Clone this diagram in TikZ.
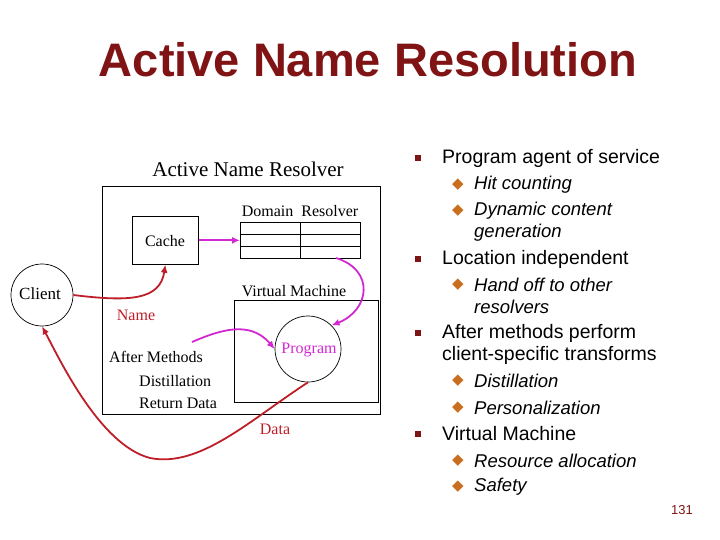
\documentclass[tikz,border=0pt]{standalone}
\usepackage{fontspec}
\setmainfont{Liberation Serif}
\newfontfamily\arial{Liberation Sans}
\newfontfamily\dejavu{DejaVu Sans}
\usetikzlibrary{arrows.meta}
\definecolor{dred}{RGB}{128,20,20}
\definecolor{nred}{RGB}{190,30,40}
\definecolor{mag}{RGB}{210,40,210}
\definecolor{orng}{RGB}{200,110,30}
\begin{document}
\begin{tikzpicture}[x=1pt,y=-1pt,
  box/.style={draw,line width=0.7pt},
  rarr/.style={draw=nred,line width=1.8pt,-{Latex[length=8pt,width=7pt]}},
  marr/.style={draw=mag,line width=1.8pt,-{Latex[length=8pt,width=7pt]}},
  tm/.style={font=\fontsize{16}{18}\selectfont,inner sep=0pt},
  bul/.style={font=\arial\fontsize{19.5}{21}\selectfont,anchor=west,inner sep=0pt},
  sub/.style={font=\arial\itshape\fontsize{18.5}{20}\selectfont,anchor=west,inner sep=0pt}]
\useasboundingbox (0,0) rectangle (720,540);
\node[font=\arial\bfseries\fontsize{47}{50}\selectfont,text=dred] (title) at (368,60) {Active Name Resolution};
\node[tm,font=\fontsize{21}{24}\selectfont] (anr) at (248,169) {Active Name Resolver};
\node[box,minimum width=278,minimum height=228,anchor=north west] (big) at (102,186) {};
\node[box,minimum width=66,minimum height=48,anchor=north west,tm] (cache) at (132,216) {};
\node[tm] at (165,241) {Cache};
\node[tm] (dr) at (300,211) {Domain\ \ Resolver};
\node[box,minimum width=120,minimum height=36,anchor=north west] (tab) at (240,222) {};
\draw[line width=0.7pt] (300,222) -- (300,258) (240,234) -- (360,234) (240,246) -- (360,246);
\node[box,circle,minimum size=62] (client) at (42,295) {};
\node[tm,font=\fontsize{17}{19}\selectfont] at (40,294) {Client};
\node[box,minimum width=144,minimum height=102,anchor=north west] (vm) at (234,300) {};
\node[tm] (vml) at (294,291) {Virtual Machine};
\node[box,circle,minimum size=66] (prog) at (308,349) {};
\node[tm,text=mag] at (309,350) {Program};
\node[tm,text=nred] (name) at (136,315) {Name};
\node[tm,anchor=west] (am) at (109,357) {After Methods};
\node[tm,anchor=west] (dist) at (139,381) {Distillation};
\node[tm,anchor=west] (rd) at (139,403) {Return Data};
\node[tm,text=nred] (data) at (275,429) {Data};
\coordinate (amstart) at (192,342);
\draw[rarr] (client.east) .. controls (130,302) and (160,300) .. (cache.south);
\draw[marr] (cache.east) -- (tab.west);
\draw[marr] (336,258) .. controls (375,270) and (370,310) .. (prog.north east);
\draw[marr] (amstart) .. controls (220,330) and (250,320) .. (prog.west);
\draw[rarr] (prog.south) .. controls (250,420) and (200,468) .. (150,458) .. controls (100,445) and (60,360) .. (client.south);
% bullets
\foreach \y in {158,259,333,434} \fill[dred] (415,\y-3) rectangle (421,\y+3);
\foreach \y in {185,211,285,381,408,461,487} \node[font=\dejavu\fontsize{15}{15}\selectfont,text=orng,inner sep=0pt] at (458,\y) {◆};
\node[bul] at (442,158) {Program agent of service};
\node[sub] at (474,185) {Hit counting};
\node[sub] at (474,211) {Dynamic content};
\node[sub] at (474,233) {generation};
\node[bul] at (442,259) {Location independent};
\node[sub] at (474,285) {Hand off to other};
\node[sub] at (474,307) {resolvers};
\node[bul] at (442,333) {After methods perform};
\node[bul] at (442,355) {client-specific transforms};
\node[sub] at (474,381) {Distillation};
\node[sub] at (474,408) {Personalization};
\node[bul] at (442,434) {Virtual Machine};
\node[sub] at (474,461) {Resource allocation};
\node[sub] at (474,487) {Safety};
\node[font=\arial\fontsize{13}{14}\selectfont,text=dred] at (682,510) {131};
\end{tikzpicture}
\end{document}
